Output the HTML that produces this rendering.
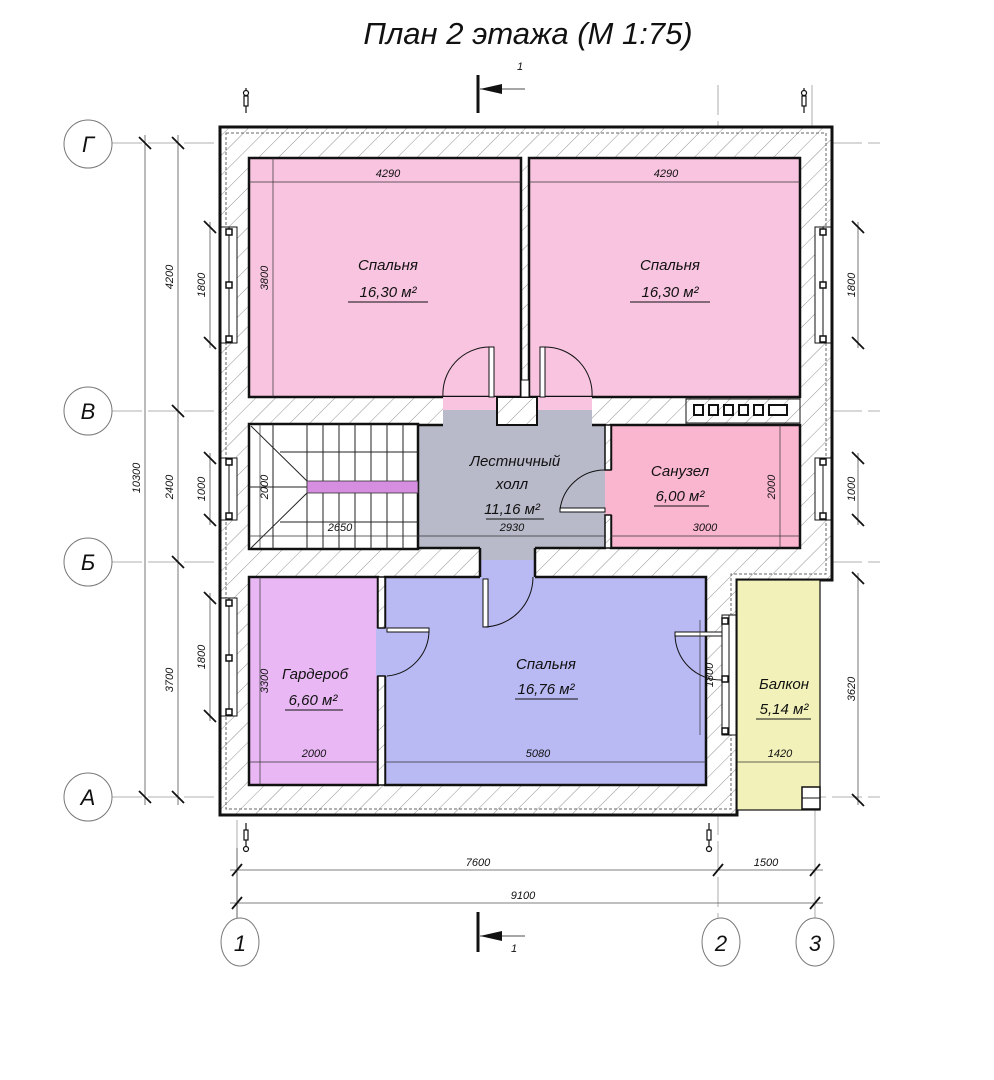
<!DOCTYPE html>
<html><head><meta charset="utf-8"><style>
html,body{margin:0;padding:0;background:#fff;}
svg{display:block;}
text{font-family:"Liberation Sans","DejaVu Sans",sans-serif;font-style:italic;fill:#111;}
.d{font-size:11px;}
.r{font-size:15px;}
</style></head><body>
<svg width="994" height="1080" viewBox="0 0 994 1080" xmlns="http://www.w3.org/2000/svg">
<defs>
<pattern id="h" patternUnits="userSpaceOnUse" width="14" height="14" patternTransform="rotate(45)">
<rect width="14" height="14" fill="#fff"/><line x1="0" y1="0" x2="0" y2="14" stroke="#777" stroke-width="0.8"/>
</pattern>
</defs>
<text x="528" y="44" text-anchor="middle" style="font-size:31px">План 2 этажа (М 1:75)</text>

<!-- grid axis lines -->
<g stroke="#999" stroke-width="0.8" fill="none">
<line x1="112" y1="143" x2="880" y2="143" stroke-dasharray="30 6"/>
<line x1="112" y1="411" x2="880" y2="411" stroke-dasharray="30 6"/>
<line x1="112" y1="562" x2="880" y2="562" stroke-dasharray="30 6"/>
<line x1="112" y1="797" x2="880" y2="797" stroke-dasharray="30 6"/>
<line x1="237" y1="820" x2="237" y2="918"/>
<line x1="718" y1="85" x2="718" y2="918" stroke-dasharray="30 6"/>
<line x1="815" y1="580" x2="815" y2="918"/>
<line x1="812" y1="85" x2="812" y2="127"/>
</g>

<!-- outer wall hatch -->
<path d="M220,127 H832 V580 H737 V815 H220 Z" fill="url(#h)" stroke="#111" stroke-width="3"/>
<path d="M226,133 H826 V574 H731 V809 H226 Z" fill="none" stroke="#666" stroke-width="1" stroke-dasharray="3 2"/>

<!-- rooms -->
<g stroke="#111" stroke-width="2.5">
<rect x="249" y="158" width="272" height="239" fill="#f8c4e0"/>
<rect x="529" y="158" width="271" height="239" fill="#f8c4e0"/>
<rect x="418" y="425" width="188" height="123" fill="#b8bac9" stroke="none"/>
<rect x="611" y="425" width="189" height="123" fill="#fbb6cf"/>
<rect x="249" y="424" width="169" height="125" fill="#fff"/>
<rect x="249" y="577" width="129" height="208" fill="#e9b8f4"/>
<rect x="385" y="577" width="321" height="208" fill="#b9b9f3"/>
<rect x="737" y="580" width="83" height="230" fill="#f1f1b9" stroke-width="1.2"/>
</g>
<!-- hall gaps -->
<rect x="443" y="397" width="54" height="29" fill="#b8bac9"/>
<rect x="443" y="397" width="54" height="13" fill="#f8c4e0"/>
<rect x="537" y="397" width="55" height="29" fill="#b8bac9"/>
<rect x="537" y="397" width="55" height="13" fill="#f8c4e0"/>
<rect x="497" y="397" width="40" height="28" fill="url(#h)" stroke="#111" stroke-width="2"/>
<rect x="521" y="380" width="8" height="17" fill="#fff" stroke="#111" stroke-width="1"/>
<rect x="480" y="546" width="55" height="33" fill="#b8bac9"/>
<rect x="480" y="560" width="55" height="19" fill="#b9b9f3"/>
<line x1="418" y1="425" x2="443" y2="425" stroke="#111" stroke-width="2.5"/>
<line x1="592" y1="425" x2="606" y2="425" stroke="#111" stroke-width="2.5"/>
<line x1="418" y1="548" x2="480" y2="548" stroke="#111" stroke-width="2.5"/>
<line x1="535" y1="548" x2="606" y2="548" stroke="#111" stroke-width="2.5"/>
<line x1="480" y1="548" x2="480" y2="577" stroke="#111" stroke-width="2.5"/>
<line x1="535" y1="548" x2="535" y2="577" stroke="#111" stroke-width="2.5"/>
<!-- sanuzel door gap -->
<rect x="605" y="470" width="8" height="45" fill="#fbb6cf"/>
<rect x="605" y="425" width="6" height="45" fill="url(#h)" stroke="#111" stroke-width="1.5"/>
<rect x="605" y="515" width="6" height="33" fill="url(#h)" stroke="#111" stroke-width="1.5"/>
<!-- garderob door gap -->
<rect x="376" y="628" width="11" height="48" fill="#b9b9f3"/>
<rect x="378" y="577" width="7" height="51" fill="url(#h)" stroke="#111" stroke-width="1.5"/>
<rect x="378" y="676" width="7" height="109" fill="url(#h)" stroke="#111" stroke-width="1.5"/>
<!-- ventilation -->
<rect x="686" y="399" width="114" height="24" fill="url(#h)" stroke="#111" stroke-width="1"/>
<g fill="#fff" stroke="#111" stroke-width="2">
<rect x="694" y="405" width="9" height="10"/><rect x="709" y="405" width="9" height="10"/><rect x="724" y="405" width="9" height="10"/><rect x="739" y="405" width="9" height="10"/><rect x="754" y="405" width="9" height="10"/><rect x="769" y="405" width="18" height="10"/>
</g>

<!-- stairs -->
<g stroke="#222" stroke-width="1" fill="none">
<line x1="273" y1="424" x2="273" y2="549"/>
<line x1="307" y1="424" x2="307" y2="549"/><line x1="323" y1="424" x2="323" y2="549"/><line x1="339" y1="424" x2="339" y2="549"/><line x1="355" y1="424" x2="355" y2="549"/><line x1="371" y1="424" x2="371" y2="549"/><line x1="387" y1="424" x2="387" y2="549"/><line x1="403" y1="424" x2="403" y2="549"/>
<line x1="280" y1="452" x2="418" y2="452"/><line x1="249" y1="487" x2="418" y2="487"/><line x1="280" y1="522" x2="418" y2="522"/>
<line x1="251" y1="426" x2="307" y2="481"/><line x1="251" y1="548" x2="307" y2="493"/>
</g>
<rect x="307" y="481" width="111" height="12" fill="#d58ee0" stroke="#333" stroke-width="0.8"/>

<!-- windows -->
<g fill="#fff" stroke="#111" stroke-width="1">
<rect x="221" y="227" width="16" height="116"/><rect x="221" y="458" width="16" height="62"/><rect x="221" y="598" width="16" height="118"/>
<rect x="815" y="227" width="16" height="116"/><rect x="815" y="458" width="16" height="62"/>
<rect x="722" y="615" width="14" height="120"/>
</g>
<g stroke="#111" stroke-width="1">
<line x1="229" y1="227" x2="229" y2="343"/><line x1="229" y1="458" x2="229" y2="520"/><line x1="229" y1="598" x2="229" y2="716"/>
<line x1="823" y1="227" x2="823" y2="343"/><line x1="823" y1="458" x2="823" y2="520"/><line x1="729" y1="615" x2="729" y2="735"/>
</g>
<g fill="#fff" stroke="#111" stroke-width="1.5">
<rect x="226" y="229" width="6" height="6"/><rect x="226" y="282" width="6" height="6"/><rect x="226" y="336" width="6" height="6"/>
<rect x="226" y="459" width="6" height="6"/><rect x="226" y="513" width="6" height="6"/>
<rect x="226" y="600" width="6" height="6"/><rect x="226" y="655" width="6" height="6"/><rect x="226" y="709" width="6" height="6"/>
<rect x="820" y="229" width="6" height="6"/><rect x="820" y="282" width="6" height="6"/><rect x="820" y="336" width="6" height="6"/>
<rect x="820" y="459" width="6" height="6"/><rect x="820" y="513" width="6" height="6"/>
<rect x="722" y="618" width="6" height="6"/><rect x="722" y="676" width="6" height="6"/><rect x="722" y="728" width="6" height="6"/>
<rect x="802" y="787" width="18" height="22"/>
</g>
<line x1="802" y1="798" x2="820" y2="798" stroke="#111" stroke-width="1"/>

<!-- doors -->
<g fill="none" stroke="#111" stroke-width="1">
<rect x="489" y="347" width="5" height="50" fill="#fff"/>
<path d="M489,347 A47,47 0 0 0 443,397"/>
<rect x="540" y="347" width="5" height="50" fill="#fff"/>
<path d="M545,347 A47,47 0 0 1 592,397"/>
<rect x="560" y="508" width="45" height="4" fill="#fff"/>
<path d="M560,510 A45,45 0 0 1 605,470"/>
<rect x="483" y="579" width="5" height="48" fill="#fff"/>
<path d="M483,627 A50,50 0 0 0 533,577"/>
<rect x="387" y="628" width="42" height="4" fill="#fff"/>
<path d="M429,630 A46,46 0 0 1 387,676"/>
<rect x="675" y="632" width="47" height="4" fill="#fff"/>
<path d="M675,634 A46,46 0 0 0 722,680"/>
</g>

<!-- interior dims -->
<g stroke="#333" stroke-width="0.7">
<line x1="249" y1="182" x2="521" y2="182"/><line x1="529" y1="182" x2="800" y2="182"/>
<line x1="273" y1="158" x2="273" y2="397"/>
<line x1="249" y1="536" x2="418" y2="536"/><line x1="418" y1="536" x2="606" y2="536"/><line x1="611" y1="536" x2="800" y2="536"/>
<line x1="260" y1="424" x2="260" y2="548"/><line x1="780" y1="425" x2="780" y2="548"/>
<line x1="249" y1="762" x2="378" y2="762"/><line x1="385" y1="762" x2="706" y2="762"/><line x1="737" y1="762" x2="820" y2="762"/>
<line x1="260" y1="577" x2="260" y2="785"/><line x1="700" y1="620" x2="700" y2="735"/>
</g>
<g class="d">
<text x="388" y="177" text-anchor="middle">4290</text>
<text x="666" y="177" text-anchor="middle">4290</text>
<text x="340" y="531" text-anchor="middle">2650</text>
<text x="512" y="531" text-anchor="middle">2930</text>
<text x="705" y="531" text-anchor="middle">3000</text>
<text x="314" y="757" text-anchor="middle">2000</text>
<text x="538" y="757" text-anchor="middle">5080</text>
<text x="780" y="757" text-anchor="middle">1420</text>
<text transform="translate(268,278) rotate(-90)" text-anchor="middle">3800</text>
<text transform="translate(268,487) rotate(-90)" text-anchor="middle">2000</text>
<text transform="translate(775,487) rotate(-90)" text-anchor="middle">2000</text>
<text transform="translate(268,681) rotate(-90)" text-anchor="middle">3300</text>
<text transform="translate(713,675) rotate(-90)" text-anchor="middle">1800</text>
</g>

<!-- room labels -->
<g class="r" text-anchor="middle">
<text x="388" y="270">Спальня</text><text x="388" y="297">16,30 м²</text>
<text x="670" y="270">Спальня</text><text x="670" y="297">16,30 м²</text>
<text x="515" y="466">Лестничный</text><text x="512" y="489">холл</text><text x="512" y="514">11,16 м²</text>
<text x="680" y="476">Санузел</text><text x="680" y="501">6,00 м²</text>
<text x="315" y="679">Гардероб</text><text x="313" y="705">6,60 м²</text>
<text x="546" y="669">Спальня</text><text x="546" y="694">16,76 м²</text>
<text x="784" y="689">Балкон</text><text x="784" y="714">5,14 м²</text>
</g>
<g stroke="#111" stroke-width="1">
<line x1="348" y1="302" x2="428" y2="302"/><line x1="630" y1="302" x2="710" y2="302"/>
<line x1="486" y1="519" x2="544" y2="519"/><line x1="654" y1="506" x2="709" y2="506"/>
<line x1="285" y1="710" x2="343" y2="710"/><line x1="515" y1="699" x2="578" y2="699"/><line x1="756" y1="719" x2="811" y2="719"/>
</g>

<!-- exterior dims -->
<g stroke="#555" stroke-width="0.8">
<line x1="145" y1="135" x2="145" y2="805"/>
<line x1="178" y1="135" x2="178" y2="805"/>
<line x1="210" y1="222" x2="210" y2="348"/><line x1="210" y1="453" x2="210" y2="525"/><line x1="210" y1="593" x2="210" y2="721"/>
<line x1="858" y1="222" x2="858" y2="348"/><line x1="858" y1="453" x2="858" y2="525"/><line x1="858" y1="573" x2="858" y2="805"/>
<line x1="230" y1="870" x2="823" y2="870"/><line x1="230" y1="903" x2="823" y2="903"/>
<line x1="237" y1="848" x2="237" y2="918"/>
</g>
<g stroke="#111" stroke-width="1.8">
<line x1="139" y1="137" x2="151" y2="149"/><line x1="139" y1="791" x2="151" y2="803"/>
<line x1="172" y1="137" x2="184" y2="149"/><line x1="172" y1="405" x2="184" y2="417"/><line x1="172" y1="556" x2="184" y2="568"/><line x1="172" y1="791" x2="184" y2="803"/>
<line x1="204" y1="221" x2="216" y2="233"/><line x1="204" y1="337" x2="216" y2="349"/><line x1="204" y1="452" x2="216" y2="464"/><line x1="204" y1="514" x2="216" y2="526"/><line x1="204" y1="592" x2="216" y2="604"/><line x1="204" y1="710" x2="216" y2="722"/>
<line x1="852" y1="221" x2="864" y2="233"/><line x1="852" y1="337" x2="864" y2="349"/><line x1="852" y1="452" x2="864" y2="464"/><line x1="852" y1="514" x2="864" y2="526"/><line x1="852" y1="572" x2="864" y2="584"/><line x1="852" y1="794" x2="864" y2="806"/>
<line x1="232" y1="876" x2="242" y2="864"/><line x1="713" y1="876" x2="723" y2="864"/><line x1="810" y1="876" x2="820" y2="864"/>
<line x1="232" y1="909" x2="242" y2="897"/><line x1="810" y1="909" x2="820" y2="897"/>
</g>
<g class="d">
<text transform="translate(140,478) rotate(-90)" text-anchor="middle">10300</text>
<text transform="translate(173,277) rotate(-90)" text-anchor="middle">4200</text>
<text transform="translate(173,487) rotate(-90)" text-anchor="middle">2400</text>
<text transform="translate(173,680) rotate(-90)" text-anchor="middle">3700</text>
<text transform="translate(205,285) rotate(-90)" text-anchor="middle">1800</text>
<text transform="translate(205,489) rotate(-90)" text-anchor="middle">1000</text>
<text transform="translate(205,657) rotate(-90)" text-anchor="middle">1800</text>
<text transform="translate(855,285) rotate(-90)" text-anchor="middle">1800</text>
<text transform="translate(855,489) rotate(-90)" text-anchor="middle">1000</text>
<text transform="translate(855,689) rotate(-90)" text-anchor="middle">3620</text>
<text x="478" y="866" text-anchor="middle">7600</text>
<text x="766" y="866" text-anchor="middle">1500</text>
<text x="523" y="899" text-anchor="middle">9100</text>
</g>

<!-- axis circles -->
<g fill="#fff" stroke="#777" stroke-width="1">
<circle cx="88" cy="144" r="24"/><circle cx="88" cy="411" r="24"/><circle cx="88" cy="562" r="24"/><circle cx="88" cy="797" r="24"/>
<ellipse cx="240" cy="942" rx="19" ry="24"/><ellipse cx="721" cy="942" rx="19" ry="24"/><ellipse cx="815" cy="942" rx="19" ry="24"/>
</g>
<g style="font-size:22px" text-anchor="middle">
<text x="88" y="152">Г</text><text x="88" y="419">В</text><text x="88" y="570">Б</text><text x="88" y="805">А</text>
<text x="240" y="951">1</text><text x="721" y="951">2</text><text x="815" y="951">3</text>
</g>

<!-- section marks -->
<g stroke="#111">
<line x1="478" y1="75" x2="478" y2="113" stroke-width="3"/>
<line x1="480" y1="89" x2="525" y2="89" stroke-width="0.8"/>
<line x1="478" y1="912" x2="478" y2="952" stroke-width="3"/>
<line x1="480" y1="936" x2="525" y2="936" stroke-width="0.8"/>
</g>
<polygon points="480,89 502,84 502,94" fill="#111"/>
<polygon points="480,936 502,931 502,941" fill="#111"/>
<text x="517" y="70" style="font-size:11px">1</text>
<text x="511" y="952" style="font-size:11px">1</text>

<!-- elevation markers -->
<g stroke="#111" stroke-width="1.2" fill="#fff">
<line x1="246" y1="88" x2="246" y2="113"/><rect x="244" y="96" width="4" height="10"/><circle cx="246" cy="93" r="2.5"/>
<line x1="804" y1="88" x2="804" y2="113"/><rect x="802" y="96" width="4" height="10"/><circle cx="804" cy="93" r="2.5"/>
<line x1="246" y1="823" x2="246" y2="848"/><rect x="244" y="830" width="4" height="10"/><circle cx="246" cy="849" r="2.5"/>
<line x1="709" y1="823" x2="709" y2="848"/><rect x="707" y="830" width="4" height="10"/><circle cx="709" cy="849" r="2.5"/>
</g>
</svg>
</body></html>
